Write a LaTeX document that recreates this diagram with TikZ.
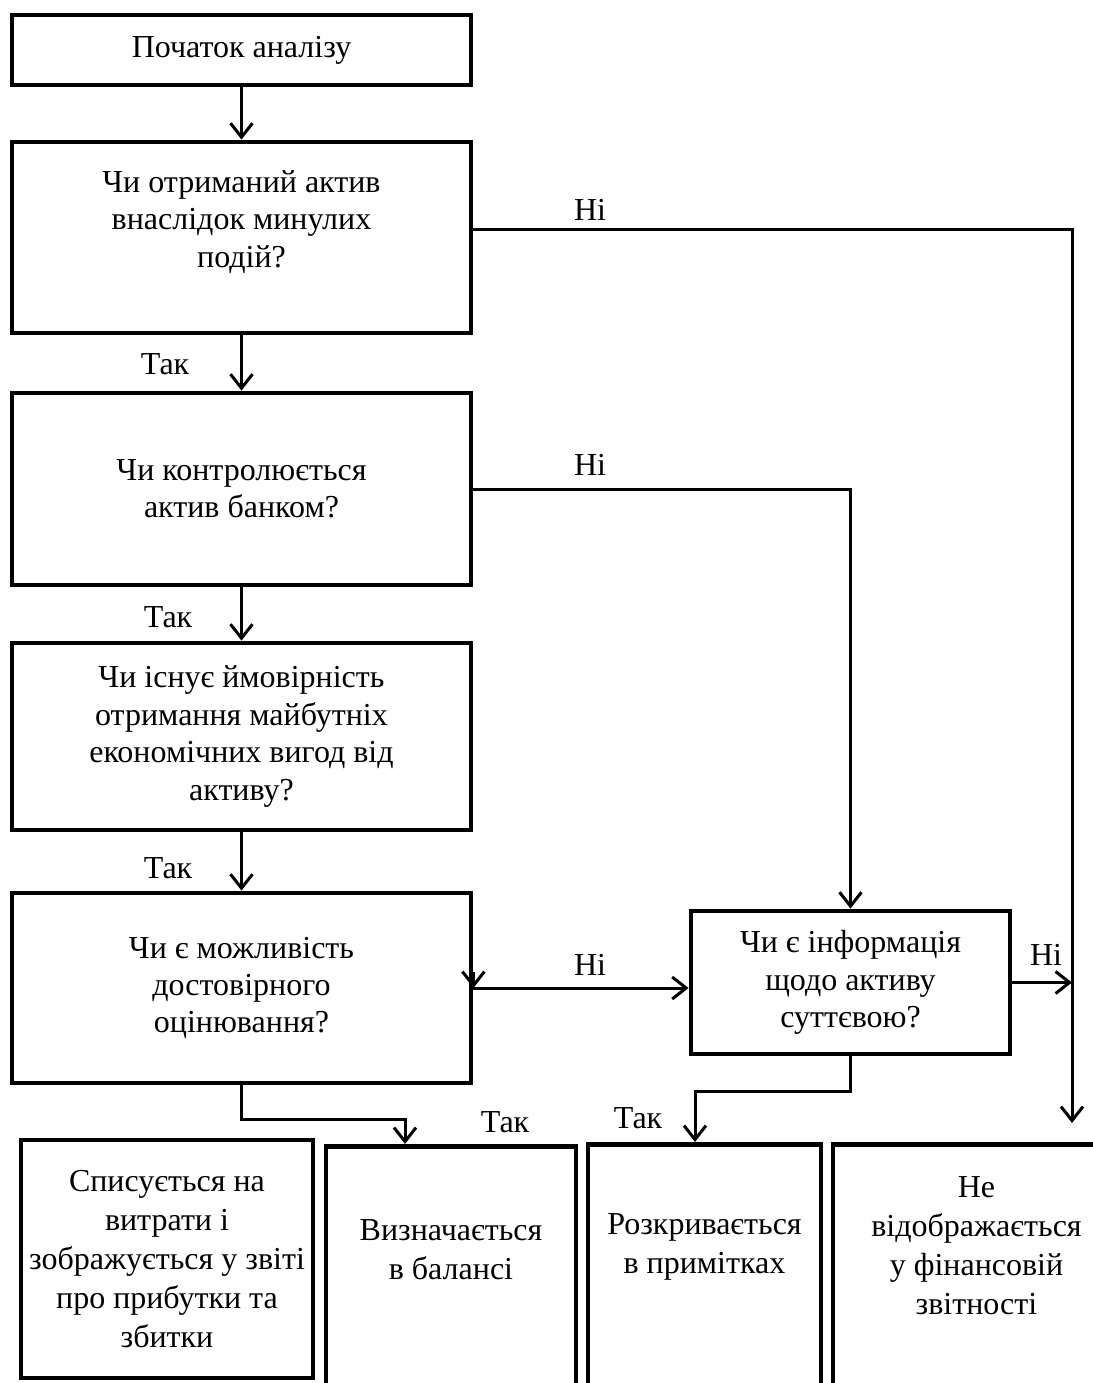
\documentclass[tikz,border=0pt]{standalone}
\usepackage{fontspec}
\setmainfont{Liberation Serif}
\usetikzlibrary{calc}
\usetikzlibrary{arrows.meta}
\tikzset{
	box/.style={draw, line width=2.4pt, align=center, inner sep=0pt, font=\fontsize{16}{18.7}\selectfont},
	endbox/.style={draw, line width=2.4pt, inner sep=0pt, anchor=north, minimum height=150pt},
	endtext/.style={align=center, inner sep=0pt, font=\fontsize{16}{19.5}\selectfont},
	lbl/.style={inner sep=0pt, font=\fontsize{16}{18}\selectfont},
	link/.style={line width=1.5pt, -{Straight Barb[length=7pt,width=11pt]}},
}

\begin{document}
\begin{tikzpicture}[x=0.5pt,y=-0.5pt]
	\useasboundingbox (0,0) rectangle (1093,1383);
	\clip (0,0) rectangle (1093,1383);
	% question column
	\node[box, minimum width=229.5pt, minimum height=35pt] at (241.5,50) (b1) {Початок аналізу};
	\node[box, minimum width=229.5pt, minimum height=95.5pt] at (241.5,237.5) (b2) {Чи отриманий актив\\внаслідок минулих\\подій?\\\mbox{}};
	\node[box, minimum width=229.5pt, minimum height=96pt] at (241.5,489) (b3) {Чи контролюється\\актив банком?};
	\node[box, minimum width=229.5pt, minimum height=93.5pt] at (241.5,736.5) (b4) {Чи існує ймовірність\\отримання майбутніх\\економічних вигод від\\активу?};
	\node[box, minimum width=229.5pt, minimum height=95pt] at (241.5,988) (b5) {Чи є можливість\\достовірного\\оцінювання?};
	\node[box, minimum width=159.5pt, minimum height=71.5pt] at (850.5,982.5) (b6) {Чи є інформація\\щодо активу\\суттєвою?};
	% results
	\node[box, font=\fontsize{16}{19.5}\selectfont, minimum width=146pt, minimum height=119pt] at (167,1259) (bA) {Списується на\\витрати і\\зображується у звіті\\про прибутки та\\збитки};
	\node[endbox, minimum width=125pt] at (451,1144) (bB) {};
	\node[endbox, minimum width=116.5pt] at (704.5,1142) (bC) {};
	\node[endbox, minimum width=143.5pt] at (976.5,1142) (bD) {};
	\node[endtext] at (451,1250) (tB) {Визначається\\в балансі};
	\node[endtext] at (704.5,1247) (tC) {Розкривається\\в примітках};
	\node[endtext] at (976.5,1246) (tD) {Не\\відображається\\у фінансовій\\звітності};
	% answers
	\node[lbl] at (590,210) (n1) {Ні};
	\node[lbl] at (590,465) (n2) {Ні};
	\node[lbl] at (590,965) (n3) {Ні};
	\node[lbl] at (1046,955) (n4) {Ні};
	\node[lbl] at (165,364) (y1) {Так};
	\node[lbl] at (168,617) (y2) {Так};
	\node[lbl] at (168,868) (y3) {Так};
	\node[lbl] at (505,1122) (y4) {Так};
	\node[lbl] at (638,1118) (y5) {Так};
	% connectors
	\coordinate (r1) at (1072,1123);
	\coordinate (m5) at (405,1119);
	\coordinate (m6) at (850.5,1091);
	\coordinate (c6) at (695,1091);
	\draw[link] (b1) -- (b2);
	\draw[link] (b2) -- (b3);
	\draw[link] (b3) -- (b4);
	\draw[link] (b4) -- (b5);
	\draw[link] ([yshift=4pt]b2.east) -| (r1);
	\draw[link] (b3.east) -| (b6.north);
	\draw[link] (b5.east) -- (b5.east -| b6.west);
	\draw[link] ([yshift=8pt]b5.east) -- (b5.east);
	\draw[link] (b6.east) -- (b6.east -| r1);
	\draw[link] (b6.south) -- (m6) -- (c6) -- (c6 |- bC.north);
	\draw[link] (b5.south) |- (m5) -- (m5 |- bB.north);
\end{tikzpicture}
\end{document}
